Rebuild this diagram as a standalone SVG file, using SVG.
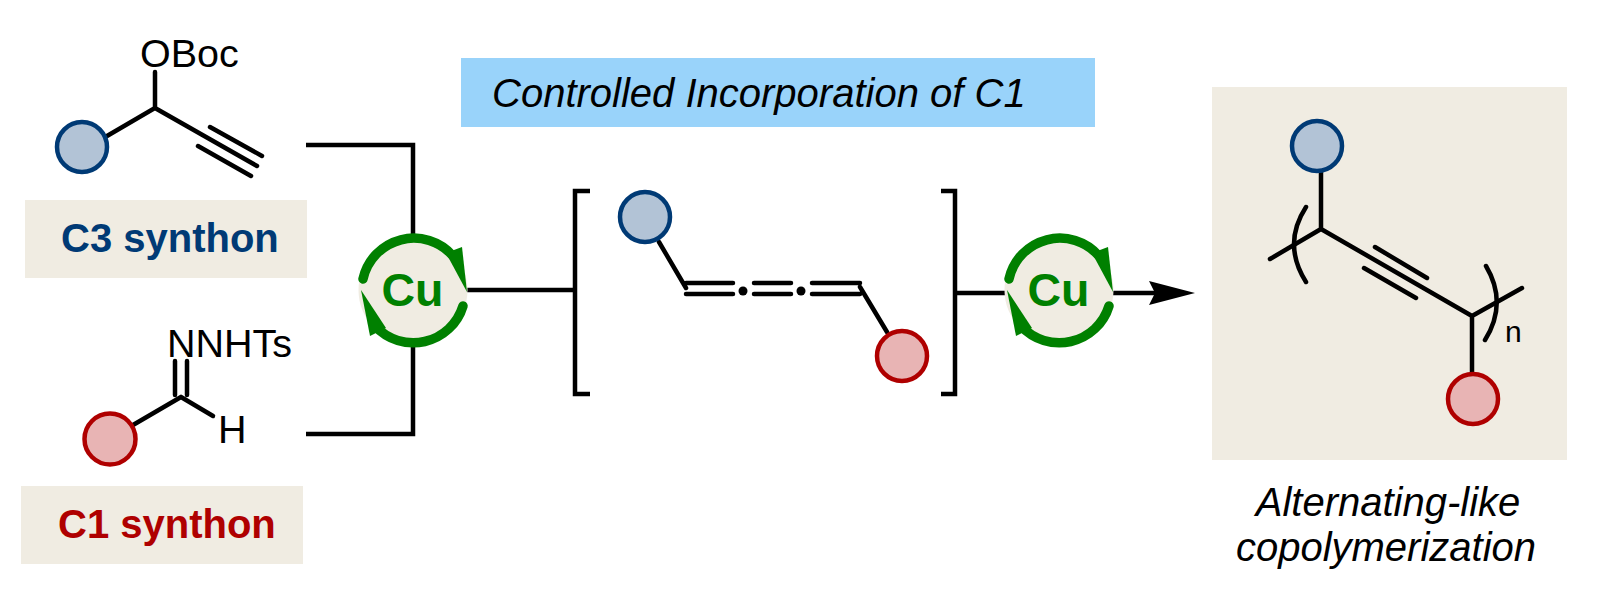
<svg xmlns="http://www.w3.org/2000/svg" xmlns:xlink="http://www.w3.org/1999/xlink" width="1600" height="616" viewBox="0 0 1600 616">
<style>
text{font-family:"Liberation Sans",Arial,sans-serif;fill:#000}
.bond{fill:none;stroke:#000;stroke-width:4.5;stroke-linecap:round;stroke-linejoin:miter}
.conn{fill:none;stroke:#000;stroke-width:4.5;stroke-linecap:butt;stroke-linejoin:miter}
.box{fill:#F0ECE2}
.blue{fill:#B2C3D6;stroke:#003A75;stroke-width:4.5}
.red{fill:#E8B4B4;stroke:#AF0000;stroke-width:4.5}
.chem{font-size:39.500px}
.ital{font-size:40px;font-style:italic}
.syn{font-size:40px;font-weight:bold}
.cu{font-size:46.500px;font-weight:bold;fill:#008000}
</style>
<defs>
<g id="cycle">
<circle cx="0" cy="0" r="54.5" fill="#F0ECE2"/>
<path d="M-50-11A52 52 0 0 1 40-34" fill="none" stroke="#008000" stroke-width="9.5" stroke-linecap="round"/>
<path d="M50 16A52 52 0 0 1-38 36" fill="none" stroke="#008000" stroke-width="9.5" stroke-linecap="round"/>
<path d="M54 2L49-43L33-37Z" fill="#008000"/>
<path d="M-52 0L-43 46L-27 38Z" fill="#008000"/>
</g>
</defs>
<g id="connectors">
<path class="conn" d="M306 145H413V236M306 434H413V342M467 290H575M957 293H1008M1110 293H1158"/>
<path d="M1195 293L1149 281L1155 293L1149 305Z" fill="#000"/>
</g>
<g id="c3-monomer">
<path class="bond" d="M107 136L155 108V72M155 108L257 166M210 127L262 156M198 146L251 176"/>
<circle class="blue" cx="82" cy="147" r="25"/>
<text class="chem" x="140" y="67">OBoc</text>
</g>
<g id="c3-label">
<rect class="box" x="25" y="200" width="282" height="78"/>
<text class="syn" x="61" y="252" style="fill:#003A75">C3 synthon</text>
</g>
<g id="c1-monomer">
<path class="bond" d="M133 425L181 397M175 361V395M187 361V395M181 397L213 416"/>
<circle class="red" cx="110" cy="439" r="25.500"/>
<text class="chem" x="167" y="357">NNHTs</text>
<text class="chem" x="218" y="443">H</text>
</g>
<g id="c1-label">
<rect class="box" x="21" y="486" width="282" height="78"/>
<text class="syn" x="58" y="538" style="fill:#AF0000">C1 synthon</text>
</g>
<g id="cu-cycle-1">
<use xlink:href="#cycle" href="#cycle" transform="translate(413 290)"/>
<text class="cu" x="412.500" y="306" text-anchor="middle">Cu</text>
</g>
<g id="banner">
<rect x="461" y="58" width="634" height="69" fill="#99D3FA"/>
<text class="ital" x="492" y="107">Controlled Incorporation of C1</text>
</g>
<g id="intermediate">
<path class="conn" d="M590 191H575V394H590M941 191H955V394H941"/>
<path class="bond" d="M659 242L686 288M686 283H733M686 294H733M754 283H791M754 294H791M812 283H860M812 294H860M860 287L887 332"/>
<circle cx="743" cy="291" r="4.500" fill="#000"/>
<circle cx="801" cy="291" r="4.500" fill="#000"/>
<circle class="blue" cx="645" cy="217" r="25"/>
<circle class="red" cx="902" cy="356" r="25"/>
</g>
<g id="cu-cycle-2">
<use xlink:href="#cycle" href="#cycle" transform="translate(1059 290)"/>
<text class="cu" x="1058.500" y="306" text-anchor="middle">Cu</text>
</g>
<g id="polymer">
<rect class="box" x="1212" y="87" width="355" height="373"/>
<path class="bond" d="M1321 172V229M1321 229L1270 259M1321 229L1472 316M1375 247L1427 278M1364 268L1416 298M1472 316V373M1472 316L1522 288"/>
<path class="bond" d="M1306 207Q1282 244 1306 282M1486 266Q1508 303 1485 340"/>
<circle class="blue" cx="1317" cy="146" r="25"/>
<circle class="red" cx="1473" cy="399" r="25"/>
<text x="1505" y="342" font-size="30">n</text>
</g>
<g id="polymer-caption">
<text class="ital" x="1388" y="516" text-anchor="middle">Alternating-like</text>
<text class="ital" x="1386" y="561" text-anchor="middle">copolymerization</text>
</g>
</svg>
